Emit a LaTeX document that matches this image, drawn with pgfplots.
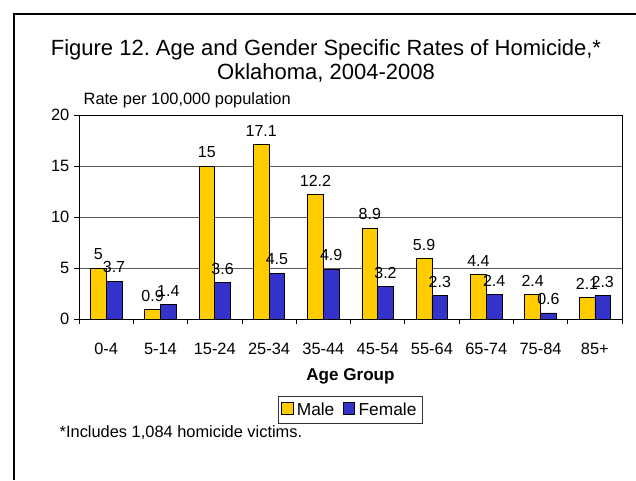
\documentclass[border=0pt]{standalone}
\usepackage{fontspec}
\setmainfont{Liberation Sans}
\usepackage{pgfplots}
\pgfplotsset{compat=1.18}
\definecolor{maleC}{HTML}{FFCC00}
\definecolor{femC}{HTML}{3333CC}
\frenchspacing
\begin{document}
\begin{tikzpicture}[x=0.75pt,y=0.75pt]
\path[use as bounding box, fill=white] (0,0) rectangle (636,480);
\draw[line width=1.5pt] (13.5,0) -- (13.5,466.5) -- (636,466.5);
\node[align=center, font=\fontsize{16.5}{18}\selectfont] at (326,419) {Figure 12. Age and Gender Specific Rates of Homicide,*\\Oklahoma, 2004-2008};
\node[anchor=west, font=\fontsize{12.3}{14}\selectfont] at (79,380) {Rate per 100,000 population};
\begin{axis}[
  at={(59.25pt,120.75pt)}, anchor=south west,
  width=407.25pt, height=153pt, scale only axis,
  ymin=0, ymax=20, ytick={0,5,10,15,20},
  xmin=-0.5, xmax=9.5,
  xtick={0,...,9},
  xticklabels={0-4,5-14,15-24,25-34,35-44,45-54,55-64,65-74,75-84,85+},
  minor xtick={-0.5,0.5,...,9.5},
  major x tick style={draw=none},
  minor x tick style={draw=black, line width=0.6pt},
  major y tick style={draw=black, line width=0.6pt},
  tick align=outside, tick pos=left,
  major tick length=3.75pt, minor tick length=3.75pt,
  ymajorgrids, grid style={black!65, line width=0.6pt},
  axis line style={black, line width=0.7pt},
  /pgf/number format/assume math mode=true,
  ticklabel style={font=\fontsize{12.3}{14}\selectfont},
  xticklabel style={yshift=-11pt},
  ybar=0pt, bar width=11.8pt,
  nodes near coords,
  every node near coord/.append style={font=\fontsize{12}{14}\selectfont, /pgf/number format/assume math mode=true, yshift=2.5pt},
  legend style={at={(0.5,-0.446)}, anchor=center, legend columns=2, draw=black!80, line width=0.7pt,
    font=\fontsize{13}{15}\selectfont, inner xsep=2pt, inner ysep=2.5pt,
    /tikz/every odd column/.append style={column sep=0pt},
    /tikz/every even column/.append style={column sep=4pt},
    nodes={inner xsep=2.5pt}},
  legend image code/.code={\draw[#1, line width=0.7pt] (0pt,-3pt) rectangle (8.5pt,5.5pt);},
]
\addplot[fill=maleC, draw=black, line width=0.5pt] coordinates {(0,5) (1,0.9) (2,15) (3,17.1) (4,12.2) (5,8.9) (6,5.9) (7,4.4) (8,2.4) (9,2.1)};
\addplot[fill=femC, draw=black, line width=0.5pt] coordinates {(0,3.7) (1,1.4) (2,3.6) (3,4.5) (4,4.9) (5,3.2) (6,2.3) (7,2.4) (8,0.6) (9,2.3)};
\legend{Male,Female}
\end{axis}
\node[font=\bfseries\fontsize{12.8}{14}\selectfont] at (350.5,104) {Age Group};
\node[anchor=west, font=\fontsize{12.3}{14}\selectfont] at (55,47) {*Includes 1,084 homicide victims.};
\end{tikzpicture}
\end{document}
